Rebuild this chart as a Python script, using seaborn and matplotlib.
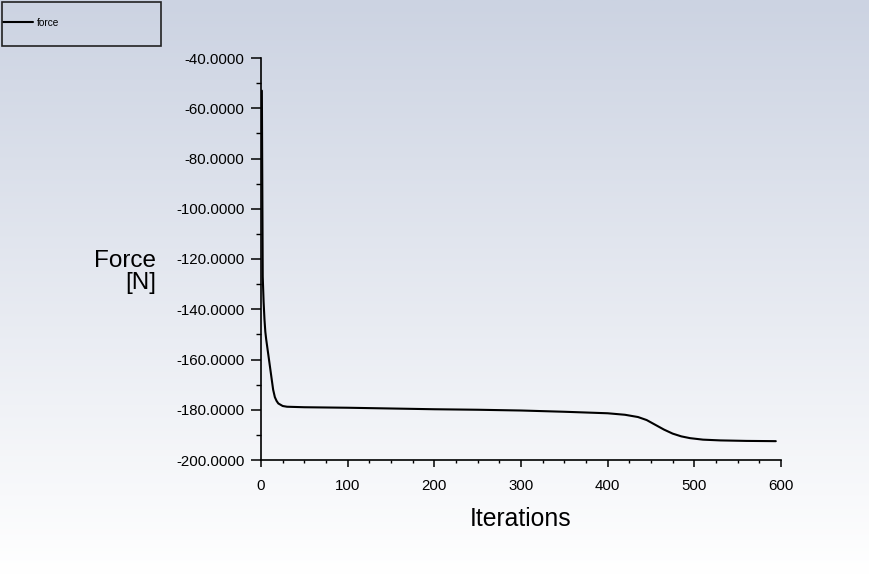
import numpy as np
import pandas as pd
import matplotlib
matplotlib.use("Agg")
import matplotlib.pyplot as plt
from matplotlib.patches import Rectangle
from matplotlib.ticker import MultipleLocator, FormatStrFormatter
import seaborn as sns

iterations = [1, 2, 3, 4, 5, 6, 8, 10, 12, 14, 16, 18, 20, 25, 30, 50, 100, 150, 200,
              250, 300, 350, 400, 420, 435, 445, 455, 465, 475, 485, 495, 510, 530, 560, 594]
force = [-53, -127, -137, -144, -149, -152, -157, -162, -167, -172, -175, -176.5, -177.5,
         -178.5, -178.8, -179.0, -179.2, -179.5, -179.8, -180.0, -180.3, -180.8, -181.4,
         -182.0, -182.9, -184.1, -186.0, -187.9, -189.5, -190.6, -191.3, -191.9, -192.2,
         -192.4, -192.5]
series_name = "force"

df = pd.DataFrame({"Iterations": iterations, "Force": force, "series": series_name})

sns.set_style("ticks")
plt.rcParams["font.family"] = ["Liberation Sans", "DejaVu Sans"]
plt.rcParams["text.color"] = "black"
plt.rcParams["axes.labelcolor"] = "black"

W, H = 869, 575
fig = plt.figure(figsize=(W / 100, H / 100), dpi=100)

# gradient background
bg = fig.add_axes([0, 0, 1, 1], zorder=-10)
grad = np.linspace(0, 1, 256).reshape(-1, 1)
top = np.array([204, 211, 226]) / 255
bot = np.array([255, 255, 255]) / 255
img = top[None, None, :] * (1 - grad[:, :, None]) + bot[None, None, :] * grad[:, :, None]
bg.imshow(img, aspect="auto", extent=[0, 1, 0, 1])
bg.axis("off")

ax = fig.add_axes([261 / W, 1 - 460 / H, 520 / W, 402 / H])
ax.patch.set_alpha(0)
sns.lineplot(data=df, x="Iterations", y="Force", hue="series", palette=["black"],
             linewidth=1.5, ax=ax, legend=True)

ax.set_xlim(0, 600)
ax.set_ylim(-200, -40)
ax.xaxis.set_major_locator(MultipleLocator(100))
ax.xaxis.set_minor_locator(MultipleLocator(25))
ax.yaxis.set_major_locator(MultipleLocator(20))
ax.yaxis.set_minor_locator(MultipleLocator(10))
ax.yaxis.set_major_formatter(FormatStrFormatter("%.4f"))
for s in ["top", "right"]:
    ax.spines[s].set_visible(False)
for s in ["left", "bottom"]:
    ax.spines[s].set_linewidth(1.2)
    ax.spines[s].set_color("black")
ax.tick_params(axis="y", which="major", length=7, width=1.1, labelsize=10.8, pad=5, colors="black")
ax.tick_params(axis="y", which="minor", length=3.5, width=1.0, colors="black")
ax.tick_params(axis="x", which="major", length=5, width=1.1, labelsize=10.8, pad=9, colors="black")
ax.tick_params(axis="x", which="minor", length=2.5, width=1.0, colors="black")

ax.set_xlabel("Iterations", fontsize=17.8, labelpad=10, color="black")
ax.set_ylabel("")
fig.text(156 / W, 1 - 272 / H, "Force\n[N]", fontsize=17.5, ha="right", va="center",
         linespacing=1.05, color="black")

# legend
handles, labels = ax.get_legend_handles_labels()
leg = ax.legend(handles, labels, loc="center left", bbox_to_anchor=(3 / W, 1 - 23 / H),
                bbox_transform=fig.transFigure, frameon=False, fontsize=7.3, borderpad=0,
                borderaxespad=0, handlelength=3.0, handletextpad=0.3)
for t in leg.get_texts():
    t.set_color("black")
fig.add_artist(Rectangle((1.5 / W, 1 - 46 / H), 159.5 / W, 44 / H, transform=fig.transFigure,
                         fill=False, edgecolor="#222222", linewidth=1.2))

fig.savefig("out.png", dpi=100)
